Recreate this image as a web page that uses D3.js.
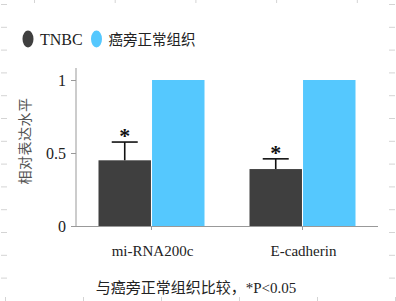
<!DOCTYPE html>
<html>
<head>
<meta charset="utf-8">
<script src="https://cdn.jsdelivr.net/npm/d3@7"></script>
<style>
  body { margin: 0; background: #fff; }
  text { font-family: "Liberation Serif", "Noto Sans CJK SC", serif; }
</style>
</head>
<body>
<svg id="chart" width="396" height="301"></svg>
<script>
// chart data
const categories = ['mi-RNA200c', 'E-cadherin'];
const seriesNames = ['TNBC', '癌旁正常组织'];
const tnbcValues = [0.45, 0.39];
const tnbcErrors = [0.125, 0.07];
const normalValues = [1, 1];
const yTicks = [0, 0.5, 1];
const yTickLabels = ['0', '0.5', '1'];

const colors = { 'TNBC': '#3f3f3f', '癌旁正常组织': '#55c8fe' };

const svg = d3.select('#chart');

// faint page ruler marks round the edges
const edge = svg.append('g').attr('stroke', '#d4d4d4').attr('stroke-width', 1);
d3.range(13).forEach(i => {
    const y = 4.5 + i * 22.8;
    edge.append('line').attr('x1', 1).attr('x2', 7).attr('y1', y).attr('y2', y);
    edge.append('line').attr('x1', 389).attr('x2', 395).attr('y1', y).attr('y2', y);
});
d3.range(5).forEach(i => {
    const x = 34.5 + i * 80.7;
    edge.append('line').attr('x1', x).attr('x2', x).attr('y1', 0).attr('y2', 3);
});
d3.range(6).forEach(i => {
    const x = 5.5 + i * 78;
    edge.append('line').attr('x1', x).attr('x2', x).attr('y1', 297).attr('y2', 301);
});

const x0 = d3.scaleBand().domain(categories).range([76, 378]);
const x1 = d3.scaleBand().domain(seriesNames)
    .range([x0.bandwidth() / 2 - 53, x0.bandwidth() / 2 + 53])
    .paddingInner(0.02);
const y = d3.scaleLinear().domain([0, 1]).range([226, 80]);

const rows = categories.map((c, i) => ({
    cat: c,
    bars: [
        { name: 'TNBC', v: tnbcValues[i], err: tnbcErrors[i] },
        { name: '癌旁正常组织', v: normalValues[i], err: 0 }
    ]
}));

// bars
const groups = svg.append('g').selectAll('g')
    .data(rows)
    .join('g')
    .attr('transform', d => `translate(${x0(d.cat)},0)`);

groups.selectAll('rect')
    .data(d => d.bars)
    .join('rect')
    .attr('x', d => x1(d.name))
    .attr('y', d => y(d.v))
    .attr('width', x1.bandwidth())
    .attr('height', d => y(0) - y(d.v))
    .attr('fill', d => colors[d.name]);

// error bars + significance stars
const errs = groups.selectAll('g.err')
    .data(d => d.bars.filter(b => b.err > 0))
    .join('g')
    .attr('class', 'err');

errs.append('line')
    .attr('x1', d => x1(d.name) + x1.bandwidth() / 2)
    .attr('x2', d => x1(d.name) + x1.bandwidth() / 2)
    .attr('y1', d => y(d.v))
    .attr('y2', d => y(d.v + d.err))
    .attr('stroke', '#111').attr('stroke-width', 1.6);
errs.append('line')
    .attr('x1', d => x1(d.name) + x1.bandwidth() / 2 - 13)
    .attr('x2', d => x1(d.name) + x1.bandwidth() / 2 + 13)
    .attr('y1', d => y(d.v + d.err))
    .attr('y2', d => y(d.v + d.err))
    .attr('stroke', '#111').attr('stroke-width', 1.6);
errs.append('text')
    .attr('x', d => x1(d.name) + x1.bandwidth() / 2)
    .attr('y', d => y(d.v + d.err) + 1)
    .attr('text-anchor', 'middle')
    .attr('font-size', 22)
    .attr('font-weight', 'bold')
    .attr('fill', '#111')
    .text('*');

// y axis
const yAxis = svg.append('g')
    .attr('transform', 'translate(76,0)')
    .call(d3.axisLeft(y).tickValues(yTicks).tickFormat((d, i) => yTickLabels[i]).tickSize(5).tickPadding(5));
yAxis.select('.domain').attr('stroke', '#999').attr('d', 'M0,226V68');
yAxis.selectAll('.tick line').attr('stroke', '#999');
yAxis.selectAll('.tick text')
    .attr('font-size', 16)
    .attr('fill', '#222')
    .style('font-family', '"Liberation Serif", serif');

// x axis
const xAxis = svg.append('g')
    .attr('transform', 'translate(0,226)')
    .call(d3.axisBottom(x0).tickSize(4).tickFormat(''));
xAxis.select('.domain').attr('stroke', '#999').attr('d', 'M76,0.5H378');
xAxis.selectAll('.tick line').attr('stroke', '#999');

svg.append('g').selectAll('text')
    .data(categories)
    .join('text')
    .attr('x', d => x0(d) + x0.bandwidth() / 2 + 1)
    .attr('y', 256)
    .attr('text-anchor', 'middle')
    .attr('font-size', 15)
    .attr('fill', '#222')
    .text(d => d);

// y label
svg.append('text')
    .attr('transform', 'translate(30,141) rotate(-90)')
    .attr('text-anchor', 'middle')
    .attr('font-size', 14)
    .attr('letter-spacing', 0.5)
    .attr('fill', '#555')
    .text('相对表达水平');

// legend
const legend = svg.append('g').selectAll('g')
    .data(seriesNames)
    .join('g')
    .attr('transform', (d, i) => `translate(${i === 0 ? 28 : 96.5},39)`);
legend.append('ellipse')
    .attr('rx', 5.5).attr('ry', 8.5)
    .attr('fill', d => colors[d]);
legend.append('text')
    .attr('x', 12)
    .attr('y', 6)
    .attr('font-size', d => d === 'TNBC' ? 16 : 14.5)
    .attr('fill', '#222')
    .text(d => d);

// footnote
svg.append('text')
    .attr('x', 196)
    .attr('y', 293)
    .attr('text-anchor', 'middle')
    .attr('font-size', 15)
    .attr('fill', '#222')
    .text('与癌旁正常组织比较，*P<0.05');
</script>
</body>
</html>
